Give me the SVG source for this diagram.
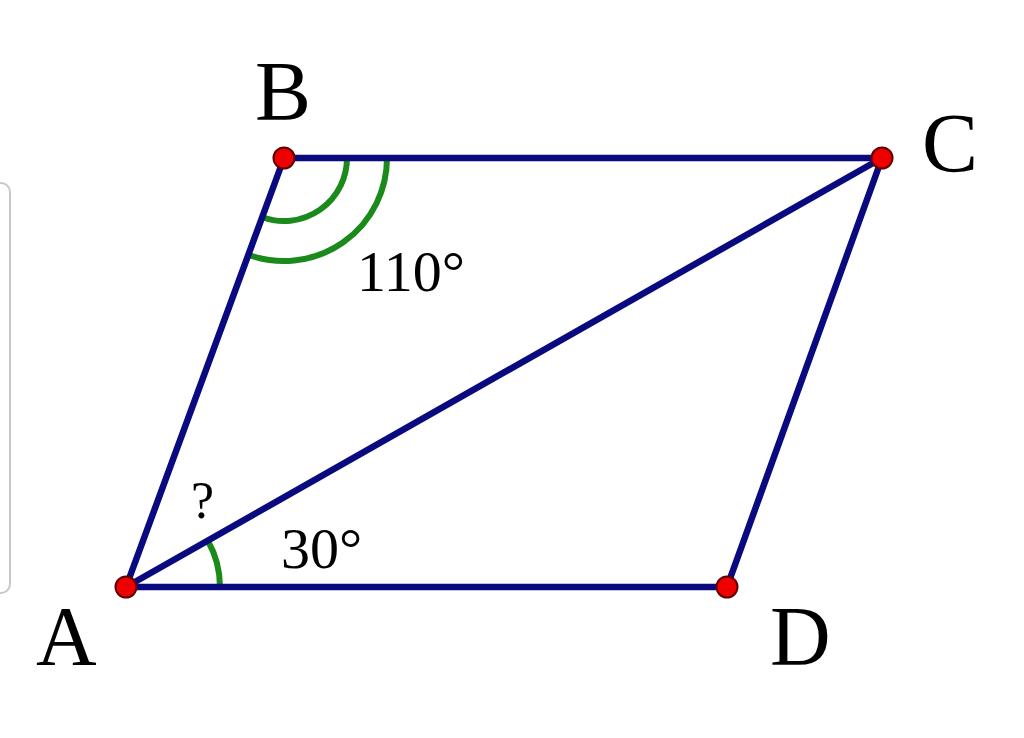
<svg xmlns="http://www.w3.org/2000/svg" width="1024" height="738" viewBox="0 0 1024 738">
<style>
.edge{stroke:#0a0a80;stroke-width:6.5;stroke-linecap:round;fill:none}
.arc{stroke:#1a8a1a;stroke-width:6;fill:none}
.pt{fill:#ee0000;stroke:#600000;stroke-width:2}
.lbl{font-family:"Liberation Serif",serif;fill:#000}
</style>
<rect x="-20" y="183" width="30" height="410" rx="9" fill="#fff" stroke="#c8c8c8" stroke-width="2"/>
<g id="angles">
<path class="arc" d="M347 158 A63 63 0 0 1 262.4 217.2"/>
<path class="arc" d="M387 158 A103 103 0 0 1 248.4 254.7"/>
<path class="arc" d="M208 541 A94 94 0 0 1 220 587"/>
</g>
<g id="connectors">
<line class="edge" x1="126" y1="587" x2="284" y2="158"/>
<line class="edge" x1="284" y1="158" x2="882" y2="158"/>
<line class="edge" x1="882" y1="158" x2="727" y2="587"/>
<line class="edge" x1="727" y1="587" x2="126" y2="587"/>
<line class="edge" x1="126" y1="587" x2="882" y2="158"/>
</g>
<g id="A"><circle class="pt" cx="126" cy="587" r="10.5"/><text class="lbl" x="36" y="665" font-size="84">A</text></g>
<g id="B"><circle class="pt" cx="284" cy="158" r="10.5"/><text class="lbl" x="255" y="120" font-size="84">B</text></g>
<g id="C"><circle class="pt" cx="882" cy="158" r="10.5"/><text class="lbl" x="922" y="172" font-size="84">C</text></g>
<g id="D"><circle class="pt" cx="727" cy="587" r="10.5"/><text class="lbl" x="770" y="665" font-size="84">D</text></g>
<text class="lbl" x="357" y="291" font-size="58">110°</text>
<text class="lbl" x="281" y="568" font-size="58">30°</text>
<text class="lbl" x="191" y="518" font-size="52">?</text>
</svg>
